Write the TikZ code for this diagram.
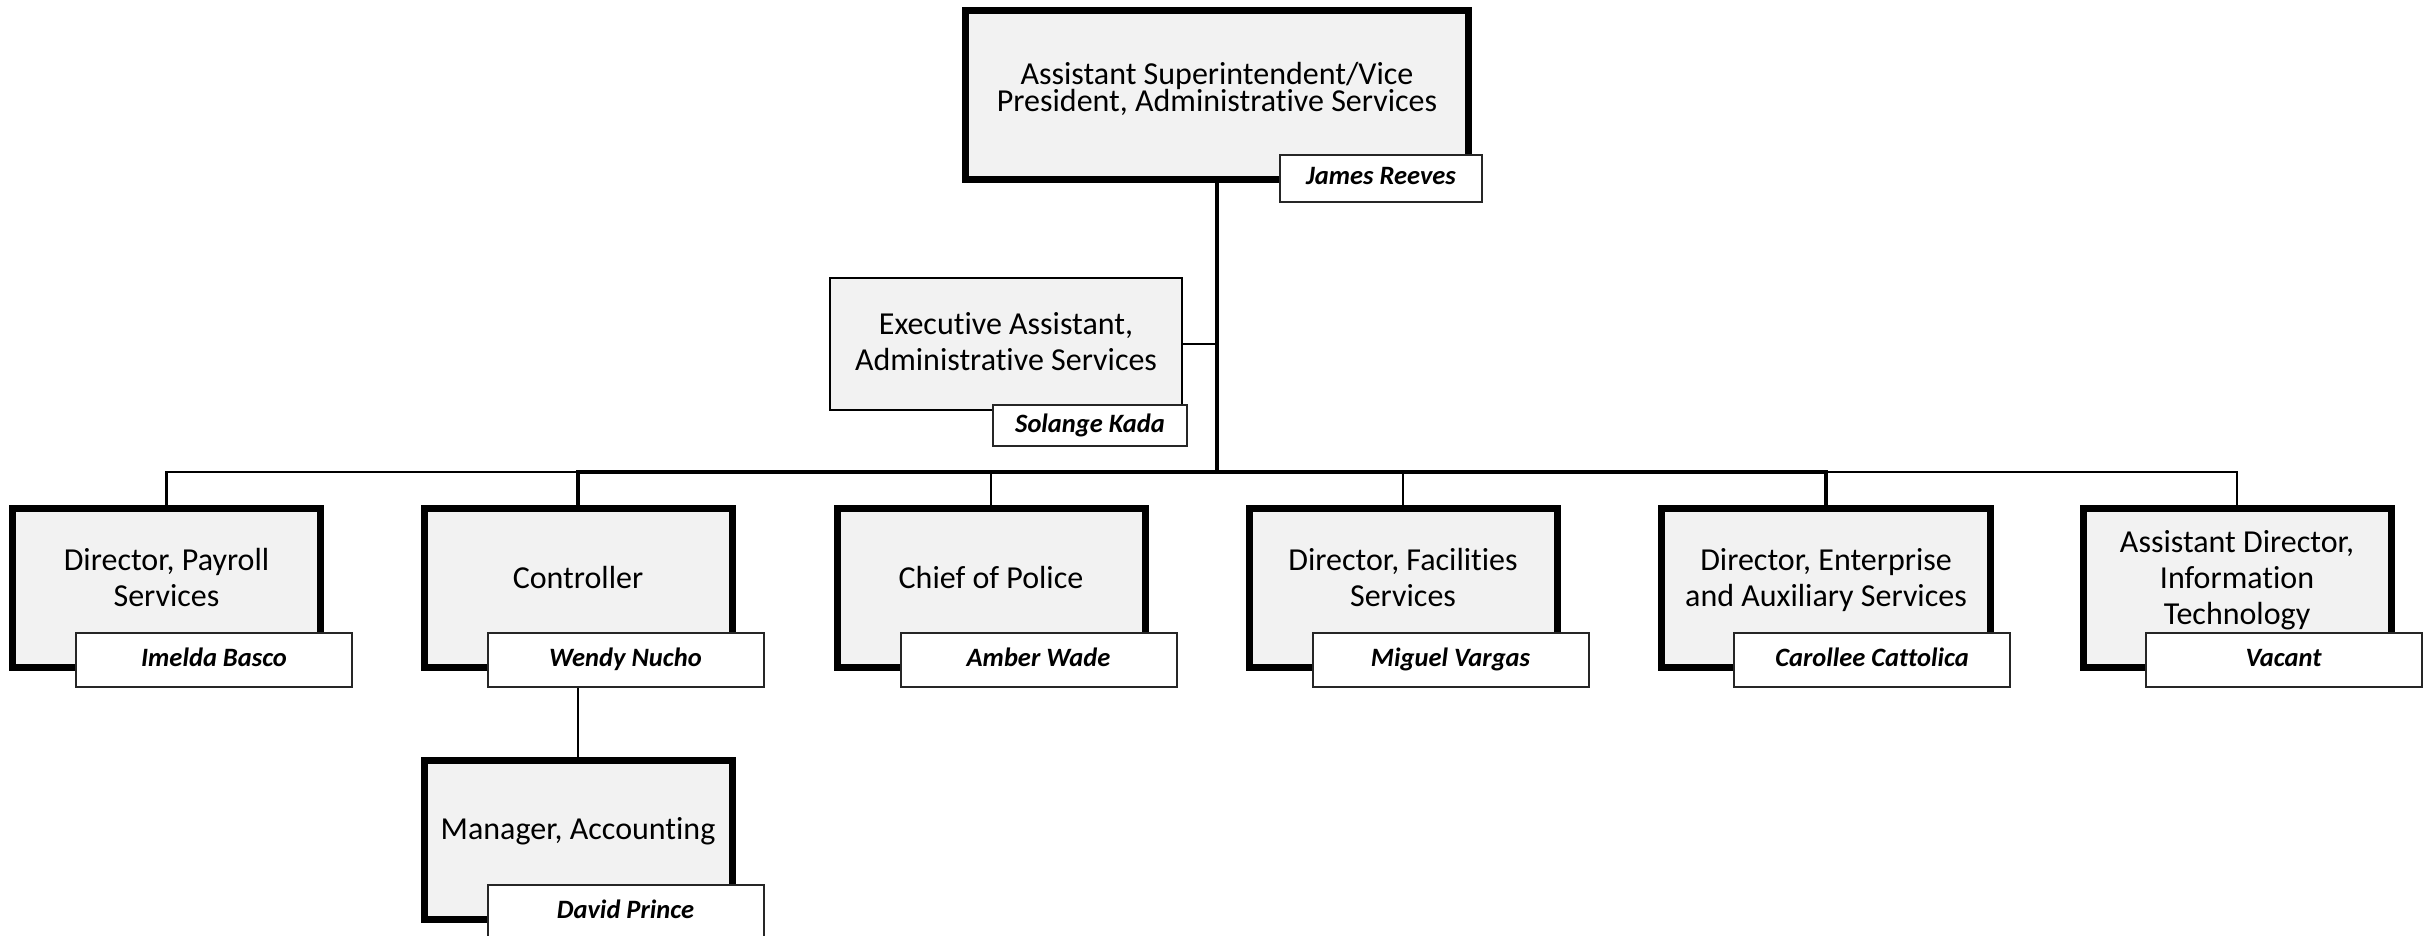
\documentclass[tikz,border=0pt]{standalone}
\usepackage{fontspec}
\setmainfont[Ligatures={NoCommon,NoContextual}]{Carlito}
\definecolor{boxgray}{HTML}{F2F2F2}
\newcommand{\postfont}{\fontsize{32}{36}\selectfont}
\newcommand{\headfont}{\fontsize{32}{26.5}\selectfont\lineskiplimit-50pt\relax}
\newcommand{\namefont}{\fontsize{26.5}{30}\selectfont\bfseries\itshape}
\newcommand{\firststrut}{\rule{0pt}{23pt}}
\newcommand{\laststrut}[1][23]{\rule[-#1pt]{0pt}{#1pt}}

\begin{document}
\begin{tikzpicture}[x=1pt, y=-1pt,
  post/.style={draw=black, fill=boxgray, line width=7pt, align=center, font=\postfont,
    minimum width=308pt, minimum height=159pt, inner sep=0pt},
  holder/.style={draw=black!85, fill=white, line width=2pt, font=\namefont,
    minimum width=276pt, minimum height=54pt, inner sep=0pt, text height=18pt, text depth=5pt},
  link/.style={line width=2.7pt}]
\useasboundingbox (0,0) rectangle (2425,936);
\node[post, minimum width=503pt, minimum height=169pt, font=\headfont] (avp) at (1217,95)
  {\firststrut Assistant Superintendent/Vice\\President, Administrative Services\laststrut[17]};
\node[holder, minimum width=202pt, minimum height=47pt] (jr) at (1381,178.5) {James Reeves};
\node[post, line width=2pt, minimum width=352pt, minimum height=132pt] (exa) at (1006,344)
  {\firststrut Executive Assistant,\\Administrative Services\laststrut[6]};
\node[holder, minimum width=194pt, minimum height=41pt] (sk) at (1090,425.5) {Solange Kada};
\coordinate (hub) at (1217,472);

\node[post] (pay) at (166.5,588) {\firststrut Director, Payroll\\Services\laststrut};
\node[holder] (ib) at (214,660) {Imelda Basco};
\node[post] (ctl) at (578,588) {\firststrut Controller\laststrut};
\node[holder] (wn) at (625.5,660) {Wendy Nucho};
\node[post] (cop) at (991,588) {\firststrut Chief of Police\laststrut};
\node[holder] (aw) at (1038.5,660) {Amber Wade};
\node[post] (fac) at (1403,588) {\firststrut Director, Facilities\\Services\laststrut};
\node[holder] (mv) at (1450.5,660) {Miguel Vargas};
\node[post, minimum width=329pt] (eas) at (1826,588) {\firststrut Director, Enterprise\\and Auxiliary Services\laststrut};
\node[holder] (cc) at (1872,660) {Carollee Cattolica};
\node[post] (ait) at (2237,588) {\firststrut Assistant Director,\\Information\\Technology\laststrut};
\node[holder] (vac) at (2283.5,660) {Vacant};

\node[post] (mgr) at (578,839.5) {\firststrut Manager, Accounting\laststrut};
\node[holder] (dp) at (625.5,912) {David Prince};

\draw[line width=4pt] (avp.south) -- (hub);
\draw[line width=2pt] (exa.east) -- (exa.east -| hub);
\draw[link, line width=2.5pt] (hub) -| (pay.north);
\draw[link, line width=2.5pt] (hub) -| (ait.north);
\draw[link, line width=3.3pt] (hub) -| (ctl.north);
\draw[link] (hub) -| (cop.north);
\draw[link] (hub) -| (fac.north);
\draw[link, line width=3.3pt] (hub) -| (eas.north);
\draw[line width=2.3pt] (wn.south -| ctl.south) -- (mgr.north);
\end{tikzpicture}
\end{document}
